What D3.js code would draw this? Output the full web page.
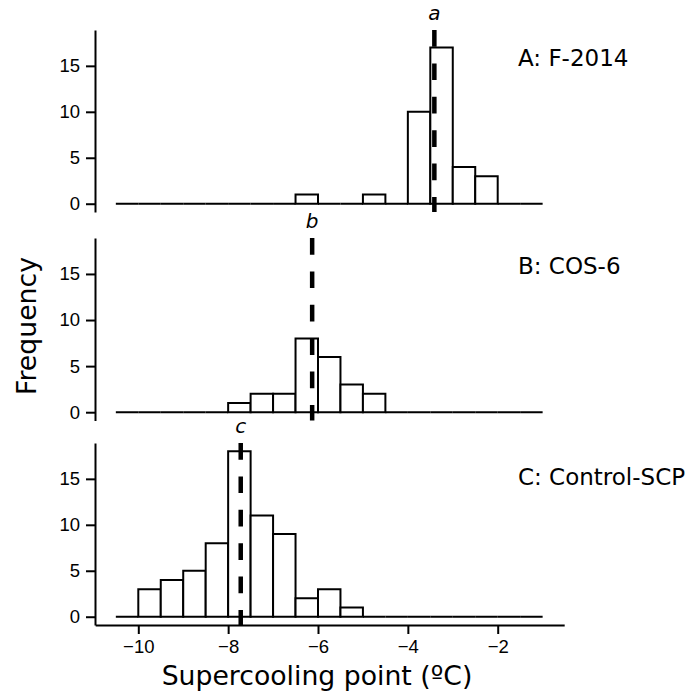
<!DOCTYPE html>
<html>
<head>
<meta charset="utf-8">
<script src="https://cdn.jsdelivr.net/npm/d3@7"></script>
<style>
  body { margin: 0; background: #fff; }
  text { fill: #000; }
</style>
</head>
<body>
<svg id="chart" width="690" height="696"></svg>
<script>
// Histogram bins (left edges, width 0.5 °C)
const binStarts = [-10.5, -10, -9.5, -9, -8.5, -8, -7.5, -7, -6.5, -6,
                   -5.5, -5, -4.5, -4, -3.5, -3, -2.5, -2, -1.5];
const binWidth = 0.5;

// Counts per bin for each treatment
const countsF2014   = [0, 0, 0, 0, 0, 0, 0, 0, 1, 0, 0, 1, 0, 10, 17, 4, 3, 0, 0];
const countsCOS6    = [0, 0, 0, 0, 0, 1, 2, 2, 8, 6, 3, 2, 0, 0, 0, 0, 0, 0, 0];
const countsControl = [0, 3, 4, 5, 8, 18, 11, 9, 2, 3, 1, 0, 0, 0, 0, 0, 0, 0, 0];

const panelLabels   = ["A: F-2014", "B: COS-6", "C: Control-SCP"];
const medianValues  = [-3.41, -6.13, -7.72];
const medianLetters = ["a", "b", "c"];

const xTicks = [-10, -8, -6, -4, -2];
const yTicks = [0, 5, 10, 15];

const xAxisLabel = "Supercooling point (ºC)";
const yAxisLabel = "Frequency";

// ---- layout ----
const svg = d3.select("#chart");
const x = d3.scaleLinear().domain([-10, -2]).range([138.3, 497.7]);
const axisX = 95;
const panelTops = [30, 238, 443];
const panelBottoms = [212, 420.5, 625];
const yDomain = [-0.9, 18.9];
const labelLevels = [15, 15, 14.35];
const seriesList = [countsF2014, countsCOS6, countsControl];

const tickFont = "'Liberation Sans', Arial, Helvetica, sans-serif";
const textFont = "'DejaVu Sans', sans-serif";

seriesList.forEach((counts, i) => {
  const y = d3.scaleLinear().domain(yDomain).range([panelBottoms[i], panelTops[i]]);
  const g = svg.append("g");

  // bars as closed outlines, so empty bins still show as a flat line on zero
  g.selectAll("path.bar")
    .data(binStarts.map((b, k) => ({ x0: b, x1: b + binWidth, n: counts[k] })))
    .join("path")
    .attr("class", "bar")
    .attr("d", d => {
      const p = d3.path();
      p.moveTo(x(d.x0), y(0));
      p.lineTo(x(d.x0), y(d.n));
      p.lineTo(x(d.x1), y(d.n));
      p.lineTo(x(d.x1), y(0));
      p.closePath();
      return p.toString();
    })
    .attr("fill", "#fff")
    .attr("stroke", "#000")
    .attr("stroke-width", 2);

  // median line
  g.append("line")
    .attr("x1", x(medianValues[i])).attr("x2", x(medianValues[i]))
    .attr("y1", y(yDomain[1])).attr("y2", y(yDomain[0]))
    .attr("stroke", "#000")
    .attr("stroke-width", 4.5)
    .attr("stroke-dasharray", "16.7,16.7");

  g.append("text")
    .attr("x", x(medianValues[i]))
    .attr("y", y(20))
    .attr("text-anchor", "middle")
    .style("font-family", textFont)
    .style("font-style", "italic")
    .style("font-size", "20px")
    .text(medianLetters[i]);

  // panel title
  g.append("text")
    .attr("x", 518)
    .attr("y", y(labelLevels[i]))
    .style("font-family", textFont)
    .style("font-size", "23px")
    .text(panelLabels[i]);

  // y axis
  const ya = svg.append("g")
    .attr("transform", `translate(${axisX},0)`)
    .call(d3.axisLeft(y).tickValues(yTicks).tickSize(9).tickSizeOuter(0).tickPadding(6));
  ya.select(".domain").attr("stroke-width", 2);
  ya.selectAll(".tick line").attr("stroke-width", 2);
  ya.selectAll(".tick text")
    .style("font-family", tickFont)
    .style("font-size", "18.5px");
});

// x axis along the bottom panel
const xAxisScale = x.copy().domain([-10.96, -0.52]).range([x(-10.96), x(-0.52)]);
const xa = svg.append("g")
  .attr("transform", `translate(0,${panelBottoms[2]})`)
  .call(d3.axisBottom(xAxisScale).tickValues(xTicks).tickSize(9).tickSizeOuter(0).tickPadding(6));
xa.select(".domain").attr("stroke-width", 2);
xa.selectAll(".tick line").attr("stroke-width", 2);
xa.selectAll(".tick text")
  .style("font-family", tickFont)
  .style("font-size", "18.5px");

// axis titles
svg.append("text")
  .attr("x", 317).attr("y", 685)
  .attr("text-anchor", "middle")
  .style("font-family", textFont)
  .style("font-size", "26.7px")
  .text(xAxisLabel);

svg.append("text")
  .attr("transform", "translate(36,326) rotate(-90)")
  .attr("text-anchor", "middle")
  .style("font-family", textFont)
  .style("font-size", "26.7px")
  .text(yAxisLabel);
</script>
</body>
</html>
